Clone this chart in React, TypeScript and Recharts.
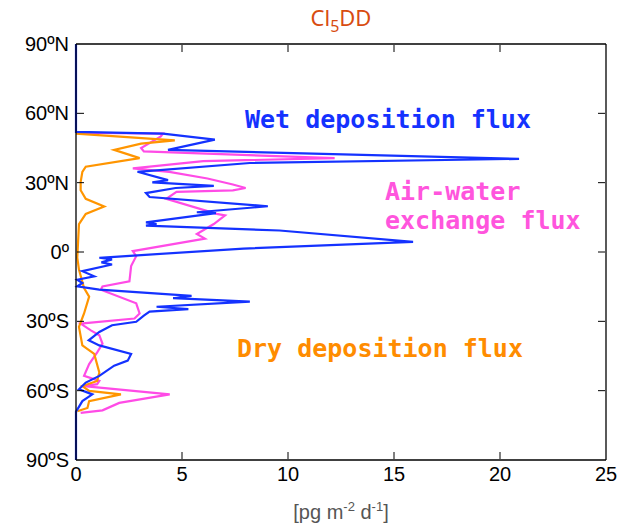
import { Line, LineChart, XAxis, YAxis } from 'recharts';

// latitude (deg, + = N) and flux [pg m-2 d-1]
const wetLat = [90, 52, 51.2, 48.6, 44.2, 40.3, 38.5, 34.7, 31.1, 30.1, 28.6, 27.7, 25.5, 23.8, 19.8, 17.2, 16.8, 12.8, 12.1, 11.4, 9.3, 4.4, 1.5, -2.5, -3.2, -4.5, -5.4, -8.3, -10.5, -12, -13.4, -14.9, -16.3, -19, -20, -21.5, -23.7, -24.7, -25.8, -27.5, -30.2, -31.7, -34.6, -38.2, -40.4, -44.1, -47, -49.2, -53.6, -56.5, -59.4, -61.6, -64.5, -68.2, -69, -90];
const wetFlux = [0, 0, 4.1, 6.55, 4.34, 20.9, 8.2, 2.9, 4.34, 3.6, 6.5, 4.7, 3.3, 3.47, 9.05, 5.7, 6.6, 3.3, 3.8, 3.3, 9.6, 15.9, 7.9, 1.1, 1.7, 1.2, 1.7, 0.3, 0.86, 0.06, 0.3, 0.06, 1.1, 5.45, 4.58, 8.2, 3.8, 5.3, 3.47, 3.2, 2.84, 1.7, 1.1, 0.6, 1.1, 2.6, 2.44, 1.8, 1.1, 0.46, 0.14, 0.77, 0.3, 0.06, 0, 0];

const awLat = [51.6, 51.2, 50, 45, 43.5, 40.6, 39.3, 36.2, 34.7, 31.8, 29.2, 27.7, 26.7, 26, 23, 16.5, 15.8, 12.1, 7.8, 5.8, 0.4, -1.8, -6.1, -12.7, -14.9, -16.3, -22.2, -26.6, -28.8, -31, -33.9, -36, -39.7, -43.4, -48.5, -53.6, -55.8, -57.2, -58, -61.6, -65.3, -68.5, -69.6];
const awFlux = [0, 4.1, 4.0, 3.07, 3.2, 12.2, 6.0, 2.68, 4.4, 6.2, 7.4, 8.0, 7.4, 4.74, 4.26, 6.64, 7.03, 6.5, 5.7, 6.08, 2.68, 2.84, 2.6, 2.52, 1.25, 1.17, 2.84, 3.0, 2.76, 0.22, 0.7, 1.1, 1.25, 1.0, 0.62, 0.38, 1.1, 1.0, 0.38, 4.42, 2.04, 1.25, 0.22];

const dryLat = [51.2, 48.3, 46.9, 44.2, 40.6, 36.9, 34.7, 30.4, 26.7, 23, 19.7, 16.5, 12.1, -2.5, -7.6, -15.6, -19.3, -26.6, -32.4, -40.4, -44.1, -52.1, -55.8, -58, -60.1, -61.6, -64.5, -67.5, -68.9];
const dryFlux = [0, 4.66, 3.07, 1.8, 3.0, 0.46, 0.3, 0.22, 0.22, 0.46, 1.33, 0.46, 0.14, 0.06, 0.14, 0.38, 0.62, 0.38, 0.14, 0.3, 0.86, 1.1, 1.0, 0.3, 0.62, 2.12, 0.62, 0.54, 0.06];

const latTicks = [90, 60, 30, 0, -30, -60, -90];
const fluxTicks = [0, 5, 10, 15, 20, 25];

const toRows = (lat: number[], flux: number[]) => lat.map((l, i) => ({ lat: l, flux: flux[i] }));
const wetData = toRows(wetLat, wetFlux);
const awData = toRows(awLat, awFlux);
const dryData = toRows(dryLat, dryFlux);

const fmtLat = (v: number) => (v === 0 ? '0º' : `${Math.abs(v)}º${v > 0 ? 'N' : 'S'}`);

// plot box edges (from the chart margins below)
const PLOT_L = 77;
const PLOT_R = 605;
const PLOT_T = 45;
const PLOT_B = 459;
const TICK_LEN = 7;

const tickFontFamily = 'Liberation Sans, Arial, sans-serif';
const monoFont = 'DejaVu Sans Mono, monospace';
const frame = { stroke: '#000', strokeWidth: 1.3 };

// x tick: label below plus inward marks on bottom and top edges
const FluxTick = (props: any) => {
  const { x, y, payload } = props;
  const v = payload.value;
  const inner = v !== 0 && v !== 25;
  return (
    <g>
      {inner && <line x1={x} x2={x} y1={PLOT_B} y2={PLOT_B - TICK_LEN} stroke="#000" />}
      {inner && <line x1={x} x2={x} y1={PLOT_T} y2={PLOT_T + TICK_LEN} stroke="#000" />}
      <text x={x} y={y} dy={16} textAnchor="middle" fontFamily={tickFontFamily} fontSize={20} fill="#000">
        {v}
      </text>
    </g>
  );
};

// y tick: label at left plus inward marks on left and right edges
const LatTick = (props: any) => {
  const { x, y, payload } = props;
  const v = payload.value;
  const inner = v !== 90 && v !== -90;
  return (
    <g>
      {inner && <line x1={PLOT_L} x2={PLOT_L + TICK_LEN} y1={y} y2={y} stroke="#000" />}
      {inner && <line x1={PLOT_R} x2={PLOT_R - TICK_LEN} y1={y} y2={y} stroke="#000" />}
      <text x={x} y={y} dy={7} textAnchor="end" fontFamily={tickFontFamily} fontSize={20} fill="#000">
        {fmtLat(v)}
      </text>
    </g>
  );
};

export default function App() {
  return (
    <div style={{ position: 'absolute', left: 0, top: 0, width: 620, height: 529, background: '#fff' }}>
      <LineChart
        width={620}
        height={529}
        layout="vertical"
        margin={{ top: 44, right: 14, bottom: 0, left: 0 }}
      >
        {/* frame on all four sides */}
        <XAxis xAxisId="bin" type="number" domain={[0, 25]} orientation="bottom" mirror height={1} tick={false} tickLine={false} axisLine={frame} />
        <XAxis xAxisId="top" type="number" domain={[0, 25]} orientation="top" mirror height={1} tick={false} tickLine={false} axisLine={frame} />
        <XAxis
          type="number"
          domain={[0, 25]}
          ticks={fluxTicks}
          tick={<FluxTick />}
          tickLine={false}
          tickSize={0}
          tickMargin={5}
          axisLine={false}
          height={69}
        />
        <YAxis yAxisId="lin" type="number" dataKey="lat" domain={[-90, 90]} reversed orientation="left" mirror width={1} tick={false} tickLine={false} axisLine={frame} />
        <YAxis yAxisId="rin" type="number" dataKey="lat" domain={[-90, 90]} reversed orientation="right" mirror width={1} tick={false} tickLine={false} axisLine={frame} />
        <YAxis
          type="number"
          dataKey="lat"
          domain={[-90, 90]}
          ticks={latTicks}
          reversed
          tick={<LatTick />}
          tickLine={false}
          tickSize={0}
          tickMargin={7}
          axisLine={false}
          width={76}
        />
        <Line data={awData} dataKey="flux" stroke="#ff4be6" strokeWidth={2.2} dot={false} isAnimationActive={false} />
        <Line data={dryData} dataKey="flux" stroke="#ff9500" strokeWidth={2.2} dot={false} isAnimationActive={false} />
        <Line data={wetData} dataKey="flux" stroke="#1432ff" strokeWidth={2.2} dot={false} isAnimationActive={false} />
      </LineChart>
      <svg width={620} height={529} style={{ position: 'absolute', left: 0, top: 0, pointerEvents: 'none' }}>
        <text x={341} y={26} textAnchor="middle" fill="#d84c10" fontFamily="Noto Sans, sans-serif" fontSize={22}>
          Cl<tspan fontSize={16} dy={6}>5</tspan><tspan dy={-6}>DD</tspan>
        </text>
        <text x={245} y={128} fill="#1432ff" fontFamily={monoFont} fontWeight="bold" fontSize={25}>Wet deposition flux</text>
        <text x={385} y={200} fill="#ff55dd" fontFamily={monoFont} fontWeight="bold" fontSize={25}>Air-water</text>
        <text x={385} y={229} fill="#ff55dd" fontFamily={monoFont} fontWeight="bold" fontSize={25}>exchange flux</text>
        <text x={237} y={357} fill="#ff8c00" fontFamily={monoFont} fontWeight="bold" fontSize={25}>Dry deposition flux</text>
        <text x={341} y={519} textAnchor="middle" fill="#555" fontFamily={tickFontFamily} fontSize={20}>
          [pg m<tspan fontSize={13} dy={-8}>-2</tspan><tspan dy={8}> d</tspan><tspan fontSize={13} dy={-8}>-1</tspan><tspan dy={8}>]</tspan>
        </text>
      </svg>
    </div>
  );
}
